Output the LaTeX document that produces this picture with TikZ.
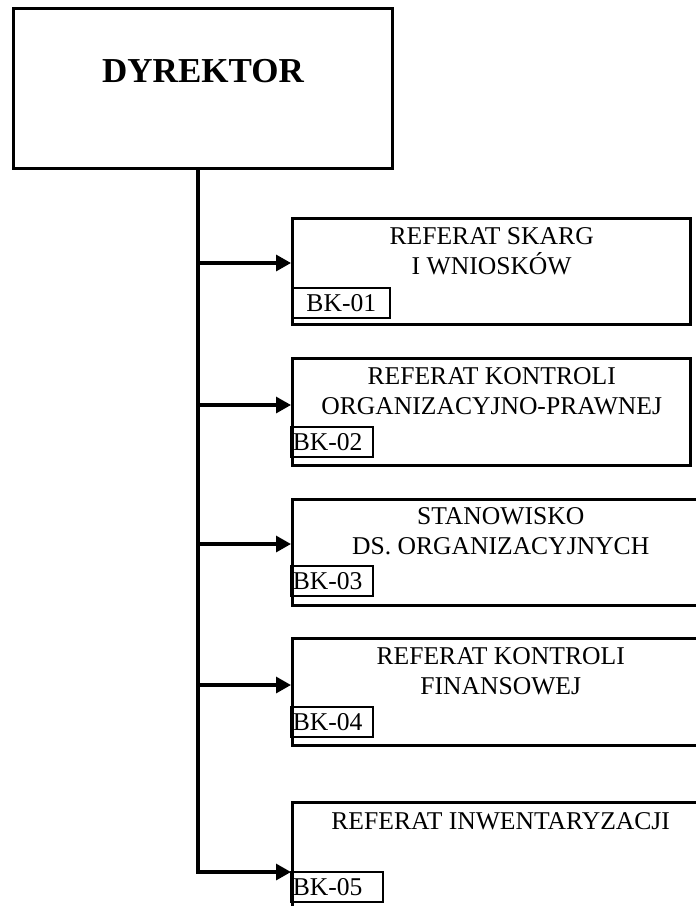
\documentclass[tikz,border=0pt]{standalone}
\usepackage{fontspec}
\setmainfont{Liberation Serif}
\usetikzlibrary{arrows.meta,positioning}

\begin{document}
\begin{tikzpicture}[x=1pt,y=-1pt,
  unit/.style={rectangle,draw,line width=3.4pt,anchor=north west,inner sep=0pt},
  title/.style={anchor=north,align=center,inner sep=0pt,
                font=\fontsize{25.6}{30}\selectfont},
  code/.style={rectangle,draw,line width=1.6pt,anchor=south west,inner xsep=2pt,
               inner ysep=0pt,minimum height=30pt,align=left,
               font=\fontsize{25.6}{30}\selectfont},
  link/.style={line width=3.2pt,-{Triangle[length=15pt,width=16pt]}}]

\useasboundingbox (0,0) rectangle (696,906);
\clip (0,0) rectangle (696,906);

% head of the unit
\node[unit,minimum width=379pt,minimum height=160pt] (dyr) at (11.5,6.5) {};
\node[anchor=base,inner sep=0pt,font=\bfseries\fontsize{35}{40}\selectfont]
  (dyrtxt) at (203,82) {DYREKTOR};

% departments
\node[unit,minimum width=398pt,minimum height=106pt] (b1) at (291,217) {};
\node[unit,minimum width=398pt,minimum height=107pt] (b2) at (291,357) {};
\node[unit,minimum width=416pt,minimum height=106pt] (b3) at (291,498) {};
\node[unit,minimum width=416pt,minimum height=107pt] (b4) at (291,637) {};
\node[unit,minimum width=416pt,minimum height=200pt] (b5) at (291,801) {};

\node[title,below=10pt of b1.north] (t1) {REFERAT SKARG\\I WNIOSKÓW};
\node[title,below=10pt of b2.north] (t2) {REFERAT KONTROLI\\ORGANIZACYJNO-PRAWNEJ};
\node[title,below=9pt of b3.north] (t3) {STANOWISKO\\DS. ORGANIZACYJNYCH};
\node[title,below=10pt of b4.north] (t4) {REFERAT KONTROLI\\FINANSOWEJ};
\node[title,below=11pt of b5.north] (t5) {REFERAT INWENTARYZACJI};

\node[code,text width=93pt,align=center] (k1) at (292,319) {BK-01};
\node[code,text width=78pt] (k2) at (290,458) {BK-02};
\node[code,text width=78pt] (k3) at (290,597) {BK-03};
\node[code,text width=78pt] (k4) at (290,738) {BK-04};
\node[code,text width=88pt] (k5) at (290,903) {BK-05};

% trunk and branches
\coordinate (j1) at (198,263);
\coordinate (j2) at (198,405);
\coordinate (j3) at (198,544);
\coordinate (j4) at (198,685);
\coordinate (j5) at (198,872);

\draw[link] (dyr.south -| j5) |- (b5.west |- j5);
\draw[link] (j1) -- (j1 -| b1.west);
\draw[link] (j2) -- (j2 -| b2.west);
\draw[link] (j3) -- (j3 -| b3.west);
\draw[link] (j4) -- (j4 -| b4.west);
\end{tikzpicture}
\end{document}
